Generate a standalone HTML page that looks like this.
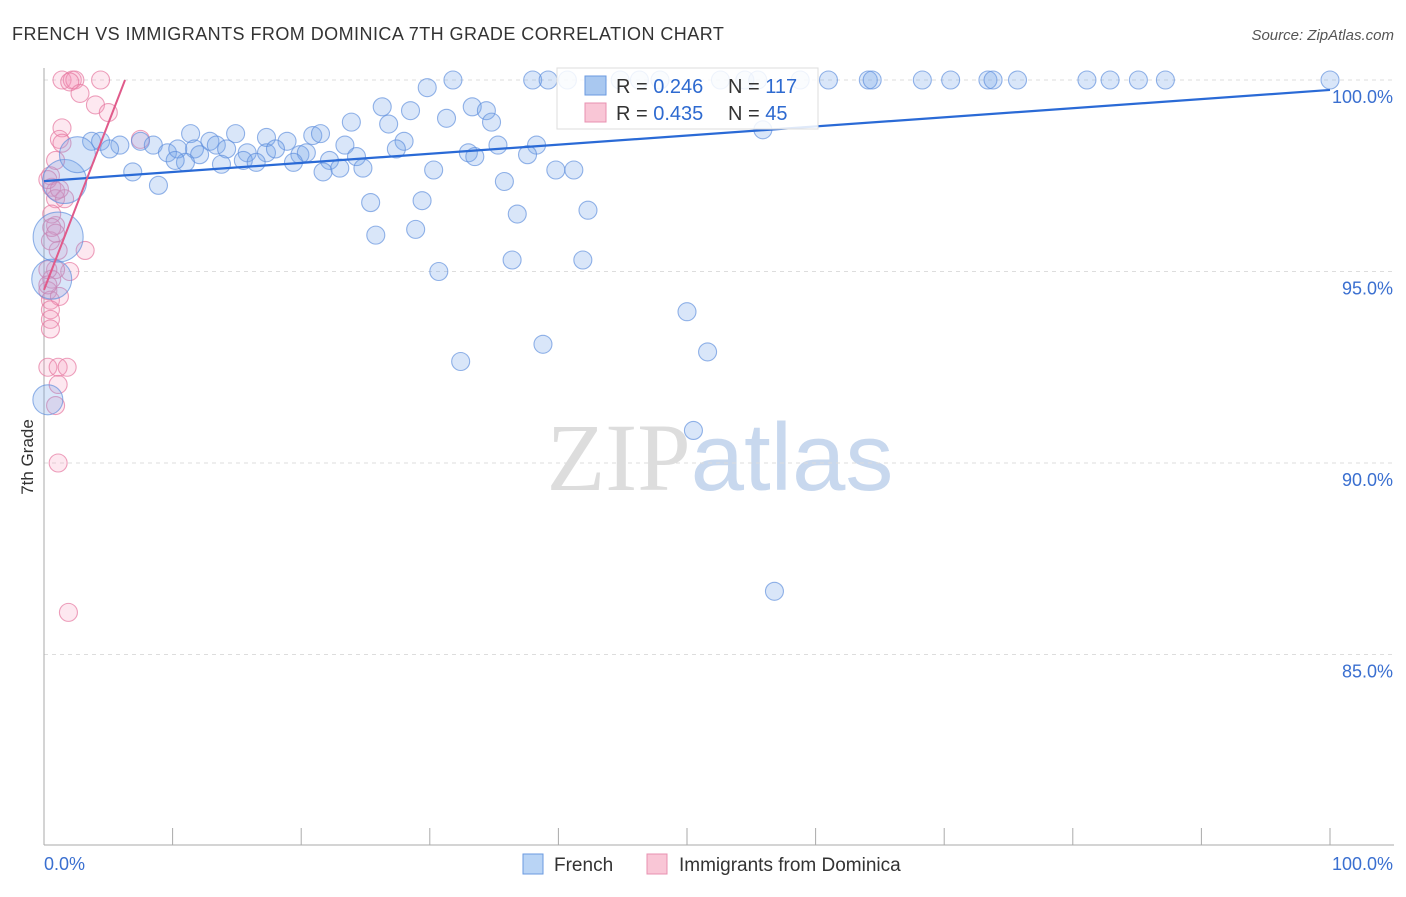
<!DOCTYPE html>
<html><head><meta charset="utf-8">
<style>
body{margin:0;background:#fff;font-family:"Liberation Sans",sans-serif;}
svg text{font-family:"Liberation Sans",sans-serif;}
</style></head>
<body>
<svg id="chart" width="1406" height="892" xmlns="http://www.w3.org/2000/svg">
<text x="12" y="40" font-size="18" letter-spacing="0.45" fill="#333">FRENCH VS IMMIGRANTS FROM DOMINICA 7TH GRADE CORRELATION CHART</text>
<text x="1394" y="40" font-size="15" fill="#555" text-anchor="end" font-style="italic">Source: ZipAtlas.com</text>
<text x="720" y="490" font-size="96" text-anchor="middle"><tspan fill="#ddd" font-family="Liberation Serif">ZIP</tspan><tspan fill="#c8d8ee">atlas</tspan></text>
<g id="grid"></g>
<g id="axes"></g>
<g id="pink"></g>
<g id="blue"></g>
<g id="trends"></g>
<text transform="translate(33,457) rotate(-90)" font-size="17" fill="#333" text-anchor="middle">7th Grade</text>
<g>
<rect x="557" y="68" width="261" height="61" fill="#fff" fill-opacity="0.85" stroke="#ddd"/>
<rect x="585" y="76" width="21" height="19" fill="#a9c8f0" stroke="#6a9ae0"/>
<rect x="585" y="103" width="21" height="19" fill="#f9c6d6" stroke="#e890b0"/>
<text x="616" y="93" font-size="20" fill="#333">R = <tspan fill="#2e6ad0">0.246</tspan></text>
<text x="728" y="93" font-size="20" fill="#333">N = <tspan fill="#2e6ad0">117</tspan></text>
<text x="616" y="120" font-size="20" fill="#333">R = <tspan fill="#2e6ad0">0.435</tspan></text>
<text x="728" y="120" font-size="20" fill="#333">N = <tspan fill="#2e6ad0"> 45</tspan></text>
</g>
<g>
<rect x="523" y="854" width="20" height="20" fill="#b9d4f5" stroke="#6a9ae0"/>
<text x="554" y="871" font-size="19" fill="#333">French</text>
<rect x="647" y="854" width="20" height="20" fill="#f9c6d6" stroke="#e890b0"/>
<text x="679" y="871" font-size="19" fill="#333">Immigrants from Dominica</text>
</g>
</svg>
<script>
const yTicks=[100,95,90,85];
const yTickLabels=["100.0%","95.0%","90.0%","85.0%"];
const xTicks=[0,10,20,30,40,50,60,70,80,90,100];
const blueX=[31.8,38.0,39.2,40.7,44.8,46.3,47.9,52.6,54.5,55.5,58.8,61.0,64.1,64.4,68.3,70.5,73.4,73.8,75.7,81.1,82.9,85.1,87.2,100,
29.8,26.3,28.5,33.3,34.4,31.3,34.8,23.9,26.8,55.9,11.4,14.9,7.5,12.9,17.3,20.9,21.5,18.9,28.0,3.7,4.4,5.9,8.5,13.4,11.7,23.4,38.3,35.3,33.0,27.4,5.1,9.6,10.4,14.2,15.8,17.3,18.0,19.9,20.4,22.2,24.3,37.6,33.5,12.1,11.0,10.2,13.8,15.5,16.5,19.4,21.7,23.0,24.8,30.3,39.8,41.2,6.9,8.9,35.8,25.4,29.4,36.8,42.3,25.8,28.9,30.7,36.4,41.9,50.0,51.6,38.8,32.4,50.5,56.8,
1.6,1.1,0.6,2.6,0.3];
const blueY=[100,100,100,100,100,100,100,100,100,100,100,100,100,100,100,100,100,100,100,100,100,100,100,100,
99.8,99.3,99.2,99.3,99.2,99.0,98.9,98.9,98.85,98.7,98.6,98.6,98.4,98.4,98.5,98.55,98.6,98.4,98.4,98.4,98.4,98.3,98.3,98.3,98.2,98.3,98.3,98.3,98.1,98.2,98.2,98.1,98.2,98.2,98.1,98.1,98.2,98.05,98.1,97.9,98.0,98.05,98.0,98.05,97.85,97.9,97.8,97.9,97.85,97.85,97.6,97.7,97.7,97.65,97.65,97.65,97.6,97.25,97.35,96.8,96.85,96.5,96.6,95.95,96.1,95.0,95.3,95.3,93.95,92.9,93.1,92.65,90.85,86.65,
97.35,95.9,94.8,98.05,91.65];
const blueR=[22,25,20,18,15];
const pinkX=[1.4,2.2,2.4,2.0,4.4,2.8,4.0,5.0,1.4,1.2,1.4,0.9,0.6,0.9,0.9,1.6,0.9,1.1,2.0,3.2,0.9,0.6,0.3,0.5,1.2,0.5,0.5,0.5,0.3,1.1,1.8,1.1,0.9,1.1,1.9,7.5,0.3,0.3,0.5,0.6,0.5,0.3,0.6,0.9,1.2];
const pinkY=[100,100,100,99.95,100,99.65,99.35,99.15,98.75,98.45,98.35,97.9,97.2,97.1,96.9,96.9,96.2,95.55,95.0,95.55,95.05,94.8,94.5,94.25,94.35,94.0,93.75,93.5,92.5,92.5,92.5,92.05,91.5,90.0,86.1,98.45,95.05,94.65,95.8,96.5,97.5,97.4,96.15,96.0,97.15];
const blueTrend=[[0,97.36],[100,99.74]];
const pinkTrend=[[0,94.52],[6.3,100]];

const NS="http://www.w3.org/2000/svg";
const X0=44,X1=1330,YTOP=80,PX5=191.5;
function sx(v){return X0+(X1-X0)*v/100;}
function sy(v){return YTOP+(100-v)/5*PX5;}
function mk(tag,attrs,parent){const e=document.createElementNS(NS,tag);for(const k in attrs)e.setAttribute(k,attrs[k]);parent.appendChild(e);return e;}
const grid=document.getElementById('grid'),axes=document.getElementById('axes');
yTicks.forEach((t,i)=>{
 const l=mk('line',{x1:44,x2:1394,y1:sy(t),y2:sy(t),stroke:'#ddd','stroke-dasharray':'4,4'},grid);
 
 
 const tx=mk('text',{x:1393,y:sy(t)+23,'font-size':18,fill:'#3a6fd0','text-anchor':'end'},axes);
 tx.textContent=yTickLabels[i];
 
 
});
const ya=mk('line',{x1:44,x2:44,y1:68,y2:845,stroke:'#aaa'},axes);


const xa=mk('line',{x1:44,x2:1394,y1:845,y2:845,stroke:'#aaa'},axes);


xTicks.forEach(t=>{
 const l=mk('line',{x1:sx(t),x2:sx(t),y1:828,y2:845,stroke:'#aaa'},axes);
 
 
});
const xl0=mk('text',{x:44,y:870,'font-size':18,fill:'#3a6fd0'},axes);xl0.textContent='0.0%';


const xl1=mk('text',{x:1393,y:870,'font-size':18,fill:'#3a6fd0','text-anchor':'end'},axes);xl1.textContent='100.0%';


const pg=document.getElementById('pink');
pinkX.forEach((v,i)=>{
 const c=mk('circle',{cx:sx(v),cy:sy(pinkY[i]),r:9,fill:'rgba(245,150,185,0.22)',stroke:'rgba(230,120,160,0.7)','stroke-width':1.1},pg);
 
 
});
const bg=document.getElementById('blue');
const nb=blueX.length;
blueX.forEach((v,i)=>{
 const big=i>=nb-blueR.length;
 const r=big?blueR[i-(nb-blueR.length)]:9;
 const c=mk('circle',{cx:sx(v),cy:sy(blueY[i]),r:r,fill:'rgba(120,165,235,0.28)',stroke:'rgba(90,140,220,0.65)','stroke-width':1.1},bg);
 
 
});
const tg=document.getElementById('trends');
const bt=mk('line',{x1:sx(blueTrend[0][0]),y1:sy(blueTrend[0][1]),x2:sx(blueTrend[1][0]),y2:sy(blueTrend[1][1]),stroke:'#2a6ad6','stroke-width':2.2},tg);


const pt=mk('line',{x1:sx(pinkTrend[0][0]),y1:sy(pinkTrend[0][1]),x2:sx(pinkTrend[1][0]),y2:sy(pinkTrend[1][1]),stroke:'#e05a8a','stroke-width':2},tg);


</script>
</body></html>
